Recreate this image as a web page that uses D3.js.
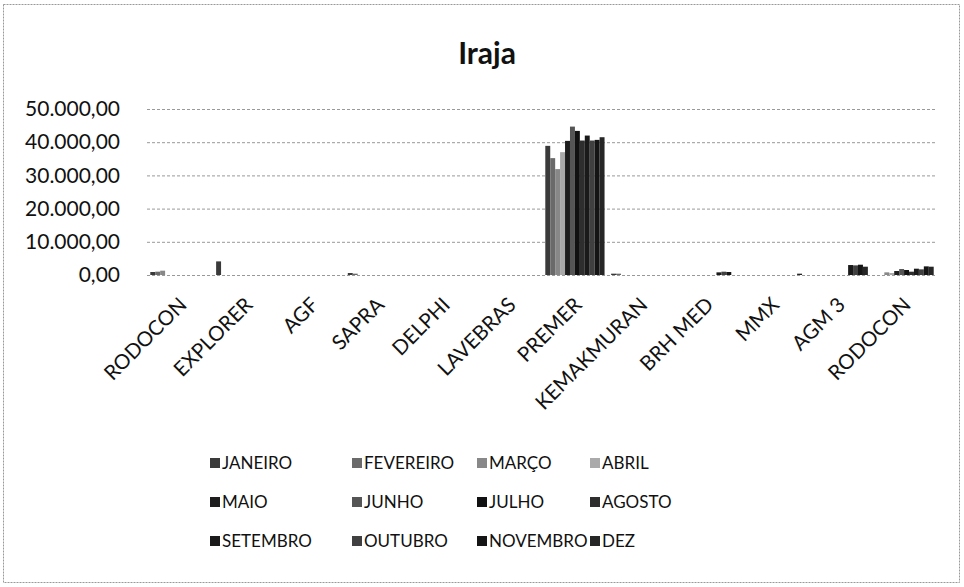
<!DOCTYPE html>
<html>
<head>
<meta charset="utf-8">
<script src="https://cdn.jsdelivr.net/npm/d3@7"></script>
<style>
  body { margin: 0; background: #fff; }
  svg { display: block; font-family: Lato, "Open Sans", sans-serif; }
</style>
</head>
<body>
<svg id="chart"></svg>
<script>
// chart data
const companies = ["RODOCON", "EXPLORER", "AGF", "SAPRA", "DELPHI", "LAVEBRAS",
  "PREMER", "KEMAKMURAN", "BRH MED", "MMX", "AGM 3", "RODOCON"];
const months = ["JANEIRO", "FEVEREIRO", "MARÇO", "ABRIL", "MAIO", "JUNHO",
  "JULHO", "AGOSTO", "SETEMBRO", "OUTUBRO", "NOVEMBRO", "DEZ"];
// one row per company, one value per month
const values = [
  [900, 1000, 1300, 0, 0, 0, 0, 0, 0, 0, 0, 0],
  [4100, 0, 0, 0, 0, 0, 0, 0, 0, 0, 0, 0],
  [0, 0, 0, 0, 0, 0, 0, 0, 0, 0, 0, 0],
  [600, 400, 0, 0, 0, 0, 0, 0, 0, 0, 0, 0],
  [0, 0, 0, 0, 0, 0, 0, 0, 0, 0, 0, 0],
  [0, 0, 0, 0, 0, 0, 0, 0, 0, 0, 0, 0],
  [38900, 35200, 31900, 37000, 40400, 44700, 43400, 40500, 42000, 40500, 40700, 41500],
  [400, 400, 0, 0, 0, 0, 0, 0, 0, 0, 0, 0],
  [0, 0, 0, 0, 0, 0, 0, 0, 800, 1000, 900, 0],
  [0, 0, 0, 0, 0, 0, 0, 0, 0, 0, 0, 400],
  [0, 0, 0, 0, 0, 0, 0, 0, 3000, 2900, 3100, 2500],
  [0, 0, 800, 600, 1200, 1800, 1500, 1000, 1900, 1700, 2600, 2500]
];
const yTicks = [0, 10000, 20000, 30000, 40000, 50000];
const monthColors = ["#3a3a3a", "#6a6a6a", "#888888", "#aaaaaa", "#1e1e1e", "#555555",
  "#111111", "#2e2e2e", "#1a1a1a", "#404040", "#151515", "#262626"];

const width = 964;
const height = 587;

const svg = d3.select("#chart").attr("width", width).attr("height", height);

// scanned page frame
svg.append("rect")
  .attr("x", 3.5).attr("y", 4.5)
  .attr("width", 956).attr("height", 578)
  .attr("fill", "none")
  .attr("stroke", "#999")
  .attr("stroke-dasharray", "2,1");

const locale = d3.formatLocale({ decimal: ",", thousands: ".", grouping: [3], currency: ["R$", ""] });
const fmt = locale.format(",.2f");

const x0 = d3.scaleBand().domain(d3.range(companies.length)).range([147, 937]).paddingInner(0.1).paddingOuter(0.05);
const x1 = d3.scaleBand().domain(months).range([0, x0.bandwidth()]);
const y = d3.scaleLinear().domain([0, 50000]).range([275, 109]);
const color = d3.scaleOrdinal().domain(months).range(monthColors);

// title
svg.append("text")
  .attr("x", 487).attr("y", 64)
  .attr("text-anchor", "middle")
  .attr("font-size", 30)
  .attr("font-weight", "bold")
  .attr("fill", "#111")
  .text("Iraja");

// gridlines + y labels
const yAxis = d3.axisLeft(y).tickValues(yTicks).tickSize(-(937 - 147)).tickFormat(fmt).tickPadding(27);
const gy = svg.append("g").attr("transform", "translate(147,0)").call(yAxis);
gy.select(".domain").remove();
gy.selectAll(".tick line").attr("stroke", "#999").attr("stroke-dasharray", "3,2");
gy.selectAll(".tick text").attr("font-size", 21).attr("fill", "#111").attr("font-family", "Lato, sans-serif");

// bars
const groups = svg.append("g").selectAll("g")
  .data(values)
  .join("g")
  .attr("transform", (d, i) => `translate(${x0(i)},0)`);

groups.selectAll("rect")
  .data(row => row.map((v, j) => ({ month: months[j], value: v })))
  .join("rect")
  .attr("x", d => x1(d.month))
  .attr("y", d => y(d.value))
  .attr("width", x1.bandwidth())
  .attr("height", d => y(0) - y(d.value))
  .attr("fill", d => color(d.month));

// category labels
svg.append("g").selectAll("text")
  .data(companies)
  .join("text")
  .attr("transform", (d, i) => `translate(${x0(i) + x0.bandwidth() / 2 + 3},301) rotate(-45)`)
  .attr("text-anchor", "end")
  .attr("dy", "0.35em")
  .attr("font-size", 20.5)
  .attr("fill", "#111")
  .text(d => d);

// legend, 4 columns x 3 rows
const legendCols = [210, 352, 477, 590];
const legendRows = [463, 502, 541];
const legend = svg.append("g").selectAll("g")
  .data(months)
  .join("g")
  .attr("transform", (d, i) => `translate(${legendCols[i % 4]},${legendRows[Math.floor(i / 4)]})`);

legend.append("rect")
  .attr("x", 0).attr("y", -5)
  .attr("width", 10).attr("height", 10)
  .attr("fill", d => color(d));

legend.append("text")
  .attr("x", 12)
  .attr("dy", "0.35em")
  .attr("font-size", 17)
  .attr("fill", "#111")
  .text(d => d);
</script>
</body>
</html>
